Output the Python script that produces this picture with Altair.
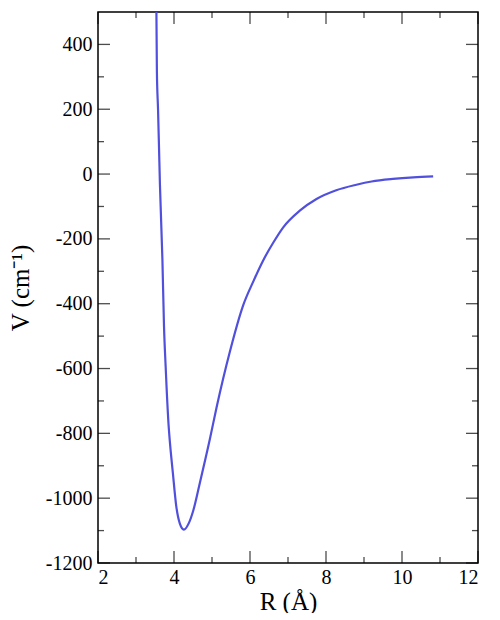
import altair as alt
import pandas as pd

# Curve data
R = [3.537, 3.55, 3.58, 3.605, 3.63, 3.695, 3.737, 3.78, 3.86, 3.887, 3.97, 4.06,
     4.15, 4.26, 4.39, 4.50, 4.68, 4.94, 5.12, 5.47, 5.82, 6.10, 6.34, 6.61,
     6.87, 7.31, 7.75, 8.27, 8.80, 9.2, 9.76, 10.3, 10.82]
V = [500, 317, 199, 85, -33, -264, -470, -593, -779, -820, -922, -1025,
     -1077, -1097, -1077, -1041, -953, -820, -720, -548, -405, -328, -268, -212,
     -165, -113, -77, -50, -33, -23, -15, -10, -7]

x_major = [2, 4, 6, 8, 10, 12]
x_minor = [3, 5, 7, 9, 11]
y_major = [-1200, -1000, -800, -600, -400, -200, 0, 200, 400]
y_minor = [-1100, -900, -700, -500, -300, -100, 100, 300]

X_DOMAIN = [2, 12]
Y_DOMAIN = [-1200, 500]

FONT = "Liberation Serif"

df = pd.DataFrame({"R": R, "V": V})

xs = alt.Scale(domain=X_DOMAIN, nice=False, zero=False)
ys = alt.Scale(domain=Y_DOMAIN, nice=False, zero=False)

x_axis = alt.Axis(values=x_major, labelExpr="'' + datum.value", grid=False, ticks=False,
                  domain=False, labelFont=FONT, labelFontSize=20, labelColor="black",
                  labelPadding=4, title="R (Å)", titleFont=FONT, titleFontSize=25,
                  titleFontWeight="normal", titleColor="black", titlePadding=2)
y_axis = alt.Axis(values=y_major, labelExpr="'' + datum.value", grid=False, ticks=False,
                  domain=False, labelFont=FONT, labelFontSize=20, labelColor="black",
                  labelPadding=6, title="V (cm⁻¹)", titleFont=FONT, titleFontSize=25,
                  titleFontWeight="normal", titleColor="black", titlePadding=12)

line = alt.Chart(df).mark_line(color="#5050dc", strokeWidth=2.2, interpolate="monotone").encode(
    x=alt.X("R:Q", scale=xs, axis=x_axis),
    y=alt.Y("V:Q", scale=ys, axis=y_axis),
)

def xticks(vals, size, ypos, off):
    d = pd.DataFrame({"t": vals})
    return alt.Chart(d).mark_tick(orient="vertical", size=size, thickness=1.3,
                                  color="black", yOffset=off).encode(
        x=alt.X("t:Q", scale=xs), y=alt.datum(ypos))

def yticks(vals, size, xpos, off):
    d = pd.DataFrame({"t": vals})
    return alt.Chart(d).mark_tick(orient="horizontal", size=size, thickness=1.3,
                                  color="black", xOffset=off).encode(
        y=alt.Y("t:Q", scale=ys), x=alt.datum(xpos))

ticks = [
    xticks(x_major, 12, Y_DOMAIN[0], -6), xticks(x_minor, 6, Y_DOMAIN[0], -3),
    xticks(x_major, 12, Y_DOMAIN[1], 6), xticks(x_minor, 6, Y_DOMAIN[1], 3),
    yticks(y_major, 12, X_DOMAIN[0], 6), yticks(y_minor, 6, X_DOMAIN[0], 3),
    yticks(y_major, 12, X_DOMAIN[1], -6), yticks(y_minor, 6, X_DOMAIN[1], -3),
]

chart = alt.layer(line, *ticks).properties(
    width=380, height=551,
    autosize=alt.AutoSizeParams(type="none"),
    padding={"left": 90, "top": 4, "right": 14, "bottom": 50},
    background="white",
).configure_view(stroke="black", strokeWidth=1.5)

chart.save("out.html", embed_options={"renderer": "svg", "actions": False})
